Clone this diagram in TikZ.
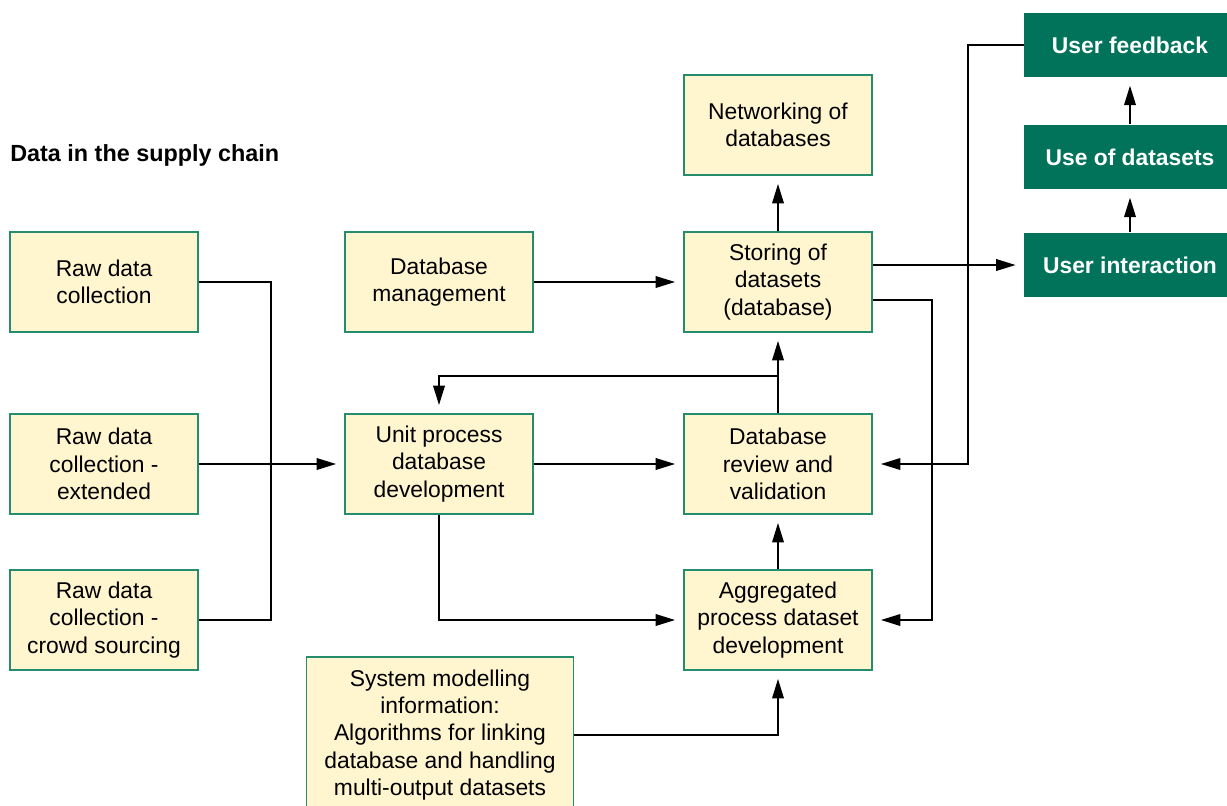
\documentclass[tikz,border=0pt]{standalone}
\usepackage{fontspec}
\setmainfont{Liberation Sans}
\usetikzlibrary{
	arrows.meta,
	positioning
}
\definecolor{boxfill}{RGB}{255,245,207}
\definecolor{boxline}{RGB}{38,140,110}
\definecolor{userfill}{RGB}{0,115,90}

\begin{document}
\begin{tikzpicture}
[x=0.02cm,y=-0.02cm,
box/.style={rectangle,draw=boxline,fill=boxfill,line width=1pt,minimum width=3.76cm,minimum height=2cm,align=center,font=\fontsize{13}{15.6}\selectfont},
userbox/.style={rectangle,fill=userfill,text=white,minimum width=4.24cm,minimum height=1.29cm,font=\fontsize{13}{15.6}\selectfont\bfseries},
arrow/.style={line width=1.1pt,-{Triangle[length=3.9mm,width=2.3mm]},shorten >=0.16cm},
link/.style={line width=1.1pt}]
\useasboundingbox (0,0) rectangle (1227,805);
\clip (0,0) rectangle (1227,805);
\node (title) at (10,155) [anchor=west,inner sep=0pt,font=\fontsize{13.3}{15}\selectfont\bfseries] {Data in the supply chain};
% raw data column
\node (rawa) at (104,282) [box] {Raw data\\collection};
\node (rawb) at (104,464) [box] {Raw data\\collection -\\extended};
\node (rawc) at (104,620) [box] {Raw data\\collection -\\crowd sourcing};
% middle column
\node (mgmt) at (439,282) [box] {Database\\management};
\node (unit) at (439,464) [box] {Unit process\\database\\development};
\node (sys) at (440,735) [box,minimum width=5.34cm,minimum height=3.12cm] {System modelling\\information:\\Algorithms for linking\\database and handling\\multi-output datasets};
% database column
\node (net) at (778,125) [box] {Networking of\\databases};
\node (store) at (778,282) [box] {Storing of\\datasets\\(database)};
\node (review) at (778,464) [box] {Database\\review and\\validation};
\node (agg) at (778,620) [box] {Aggregated\\process dataset\\development};
% users
\node (fb) at (1130,45) [userbox] {User feedback};
\node (use) at (1130,157) [userbox] {Use of datasets};
\node (ui) at (1130,265) [userbox] {User interaction};
\coordinate (bus) at (271,464);
\coordinate (split) at (778,376);
\coordinate (loopr) at (932,300);
\coordinate (fbturn) at (968,464);
\draw[link] (rawa.east) -| (bus) |- (rawc.east);
\draw[arrow] (rawb.east) -- (unit.west);
\draw[arrow] (mgmt) -- (store);
\draw[arrow] (store) -- (net);
\draw[arrow] (store.east |- ui.west) -- (ui.west);
\draw[arrow] (store.east |- loopr) -- (loopr) |- (agg.east);
\draw[arrow] (review) -- (store);
\draw[arrow] (split) -| (unit.north);
\draw[arrow] (unit) -- (review);
\draw[arrow] (fb.west) -| (fbturn) -- (review.east);
\draw[arrow] (unit.south) |- (agg.west);
\draw[arrow] (agg) -- (review);
\draw[arrow] (sys.east) -| (agg.south);
\draw[arrow] (ui) -- (use);
\draw[arrow] (use) -- (fb);
\end{tikzpicture}
\end{document}
